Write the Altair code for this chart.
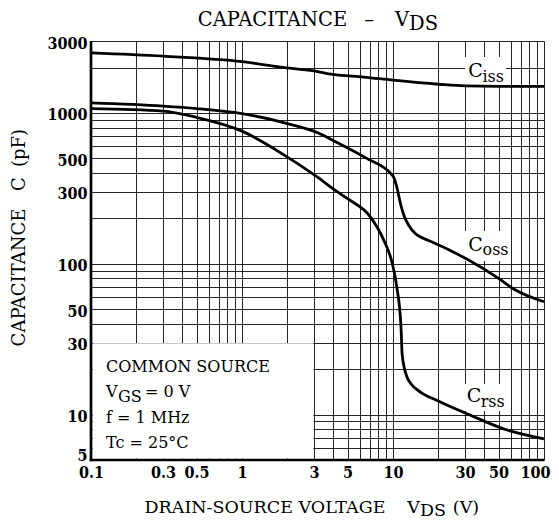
import altair as alt
import pandas as pd

# ---- data (V_DS in volts, C in pF) ----
ciss_v = [0.1, 0.3, 1, 1.8, 3, 4, 6.4, 10, 20, 30, 50, 100]
ciss_c = [2500, 2380, 2190, 2015, 1900, 1800, 1730, 1650, 1550, 1510, 1500, 1500]

coss_v = [0.1, 0.3, 0.5, 1, 2, 3.2, 4, 6.75, 9.7, 10.1, 10.6, 11.2, 11.8, 12.7, 14.1, 16, 18, 31, 50, 63, 100]
coss_c = [1165, 1110, 1070, 990, 850, 737, 659, 498, 395, 376, 323, 251, 210, 180, 158, 147, 140, 107, 80, 68, 56]

crss_v = [0.1, 0.3, 0.5, 1, 2, 3.2, 4, 5, 7.1, 8.7, 9.9, 10.6, 11.3, 11.5, 12.4, 13.1, 15.2, 19.6, 32.6, 54, 100]
crss_c = [1070, 1030, 935, 758, 510, 372, 315, 270, 204, 143, 100, 70, 38, 25, 17.7, 16.1, 14.1, 12.4, 9.9, 8.05, 6.9]

x_grid = [0.1, 0.2, 0.3, 0.4, 0.5, 0.6, 0.7, 0.8, 0.9,
          1, 2, 3, 4, 5, 6, 7, 8, 9,
          10, 20, 30, 40, 50, 60, 70, 80, 90, 100]
x_labels = [0.1, 0.3, 0.5, 1, 3, 5, 10, 30, 50, 100]
y_grid = [5, 6, 7, 8, 9, 10, 20, 30, 40, 50, 60, 70, 80, 90, 100,
          200, 300, 400, 500, 600, 700, 800, 900, 1000, 2000, 3000]
y_labels = [5, 10, 30, 50, 100, 300, 500, 1000, 3000]

rows = []
for name, vs, cs in (("Ciss", ciss_v, ciss_c), ("Coss", coss_v, coss_c), ("Crss", crss_v, crss_c)):
    for v, c in zip(vs, cs):
        rows.append({"series": name, "v": v, "c": c})
df = pd.DataFrame(rows)

FONT = "DejaVu Serif"
TICKFONT = "'DejaVu Serif Condensed', 'DejaVu Serif'"
W, H = 453, 419


def lab_expr(vals):
    arr = ",".join(repr(v) for v in vals)
    return f"indexof([{arr}], datum.value) >= 0 ? format(datum.value, '~g') : ''"


lines = alt.Chart(df).mark_line(color="black", strokeWidth=2.8, interpolate="monotone").encode(
    x=alt.X("v:Q",
            scale=alt.Scale(type="log", domain=[0.1, 100], nice=False),
            axis=alt.Axis(values=x_grid, labelExpr=lab_expr(x_labels), grid=True,
                          gridColor="black", gridWidth=1, gridOpacity=0.85,
                          domain=False, ticks=False, labelFont=TICKFONT, labelFontSize=16,
                          labelFontWeight="bold", labelColor="black", labelPadding=4,
                          labelAlign={"condition": {"test": "datum.value == 100", "value": "right"},
                                      "value": "center"},
                          labelOffset={"condition": {"test": "datum.value == 100", "value": 6},
                                       "value": 0},
                          labelOverlap=False, labelFlush=False, labelBound=False, title=None)),
    y=alt.Y("c:Q",
            scale=alt.Scale(type="log", domain=[5, 3000], nice=False),
            axis=alt.Axis(values=y_grid, labelExpr=lab_expr(y_labels), grid=True,
                          gridColor="black", gridWidth=1, gridOpacity=0.85,
                          domain=False, ticks=False, labelFont=TICKFONT, labelFontSize=16,
                          labelFontWeight="bold", labelColor="black", labelPadding=4,
                          labelOffset={"condition": {"test": "datum.value == 5", "value": -5},
                                       "value": 2},
                          labelOverlap=False, labelFlush=False,
                          labelBound=False, title=None)),
    detail="series:N",
)

one = pd.DataFrame({"k": [0]})


def rect(x1, x2, y1, y2):
    return alt.Chart(one).mark_rect(color="white", opacity=1).encode(
        x=alt.value(x1), x2=alt.value(x2), y=alt.value(y1), y2=alt.value(y2))


def txt(s, x, y, size, align="left", angle=0, weight="normal"):
    return alt.Chart(one).mark_text(text=s, align=align, baseline="alphabetic", font=FONT,
                                    fontSize=size, angle=angle, fontWeight=weight,
                                    color="black").encode(x=alt.value(x), y=alt.value(y))


def rule(x1, x2, y1, y2, w):
    return alt.Chart(one).mark_rule(color="black", strokeWidth=w).encode(
        x=alt.value(x1), x2=alt.value(x2), y=alt.value(y1), y2=alt.value(y2))


backs = [
    rect(1.8, 222.5, 302.2, 417.6),   # condition box (0.1..3 V, 5..30 pF)
    rect(374, 415, 16, 44),           # Ciss label
    rect(374, 416, 190, 220),         # Coss label
    rect(372, 412, 343, 370),         # Crss label
]

frame = [
    rule(0, 0, 0, H + 1.3, 2.7),
    rule(-1.3, W, H, H, 2.7),
]

texts = [
    # title
    txt("CAPACITANCE", 181.5, -14.7, 19.5, align="center"),
    txt("–", 278, -14.7, 19.5, align="center"),
    txt("V", 318, -14.7, 19.5, align="right"),
    txt("DS", 318, -11.4, 19.5),
    # x title
    txt("DRAIN-SOURCE VOLTAGE", 174, 471.5, 17.5, align="center"),
    txt("V", 329, 471.5, 17.5, align="right"),
    txt("DS", 329, 474.5, 17.5),
    txt("(V)", 375, 471.5, 17.5, align="center"),
    # y title
    txt("CAPACITANCE", -66, 236.5, 18, align="center", angle=270),
    txt("C", -66, 143, 18, align="center", angle=270),
    txt("(pF)", -66, 107, 18, align="center", angle=270),
    # conditions
    txt("COMMON SOURCE", 15, 331.3, 16),
    txt("V", 15, 355.7, 16),
    txt("GS", 27, 361.3, 16),
    txt("= 0 V", 54, 355.7, 16),
    txt("f = 1 MHz", 15, 382.3, 16),
    txt("Tc = 25°C", 15, 407.3, 16),
    # curve labels
    txt("C", 377.3, 36.3, 19),
    txt("iss", 391.5, 40.7, 16),
    txt("C", 377.3, 210, 19),
    txt("oss", 391.5, 214, 16),
    txt("C", 375.7, 360.7, 19),
    txt("rss", 389.7, 365.7, 16),
]

chart = alt.layer(*backs, lines, *frame, *texts).properties(
    width=W, height=H,
    padding={"left": 83, "top": 33, "right": 7, "bottom": 60},
    autosize=alt.AutoSizeParams(type="none"),
    background="white",
).configure_view(stroke=None)

chart.save("out.html", embed_options={"renderer": "svg", "actions": False})
